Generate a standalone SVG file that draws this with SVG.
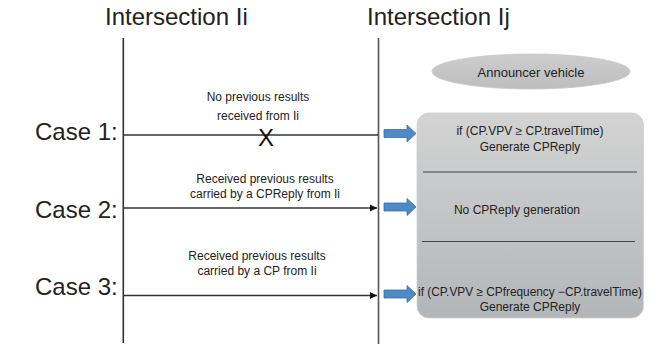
<svg xmlns="http://www.w3.org/2000/svg" width="659" height="348" viewBox="0 0 659 348">
<defs>
<style>
text{font-family:"Liberation Sans",Arial,sans-serif;fill:#222;}
.title{font-size:24px;}
.case{font-size:24px;}
.lbl{font-size:12px;text-anchor:middle;}
.box{font-size:12px;text-anchor:middle;}
.life{stroke:#333;stroke-width:1.6;fill:none;}
.msg{stroke:#333;stroke-width:1.5;fill:none;}
.sep{stroke:#444;stroke-width:1.2;}
.blue{fill:#4f89c8;stroke:#3c6fa6;stroke-width:0.8;}
</style>
<marker id="ah" markerWidth="8" markerHeight="8" refX="7" refY="4" orient="auto" markerUnits="userSpaceOnUse">
<path d="M0,0.5 L7,4 L0,7.5 Z" fill="#111"/>
</marker>
<linearGradient id="gbox" x1="0" y1="0" x2="0" y2="1">
<stop offset="0" stop-color="#d3d3d3"/>
<stop offset="1" stop-color="#b3b6b9"/>
</linearGradient>
<linearGradient id="gell" x1="0" y1="0" x2="0" y2="1">
<stop offset="0" stop-color="#cdcdcd"/>
<stop offset="1" stop-color="#bdbdbd"/>
</linearGradient>
<path id="blk" d="M0,-4 L23,-4 L23,-8.5 L32,0 L23,8.5 L23,4 L0,4 Z"/>
</defs>
<rect width="659" height="348" fill="#fff"/>

<g id="intersection-i">
<text class="title" x="105" y="25">Intersection Ii</text>
<line class="life" x1="123.3" y1="38" x2="123.3" y2="343"/>
</g>
<g id="intersection-j">
<text class="title" x="367" y="25">Intersection Ij</text>
<line class="life" x1="378.5" y1="38" x2="378.5" y2="344" stroke-width="2" style="stroke:#555"/>
</g>

<g id="case-labels">
<text class="case" x="35" y="140">Case 1:</text>
<text class="case" x="35" y="218">Case 2:</text>
<text class="case" x="35" y="295">Case 3:</text>
</g>

<g id="connectors">
<line class="msg" x1="123" y1="135" x2="378" y2="135"/>
<line class="msg" x1="123" y1="208" x2="377" y2="208" marker-end="url(#ah)"/>
<line class="msg" x1="123" y1="295.5" x2="377" y2="295.5" marker-end="url(#ah)"/>
<use href="#blk" class="blue" x="384" y="133.5"/>
<use href="#blk" class="blue" x="384" y="207"/>
<use href="#blk" class="blue" x="384" y="294"/>
</g>

<g id="msg-labels">
<text class="lbl" x="258" y="101">No previous results</text>
<text class="lbl" x="258" y="120">received from Ii</text>
<text x="266" y="146" style="font-size:24px;text-anchor:middle;fill:#111">X</text>
<text class="lbl" x="265" y="183">Received previous results</text>
<text class="lbl" x="265" y="198">carried by a CPReply from Ii</text>
<text class="lbl" x="257" y="260">Received previous results</text>
<text class="lbl" x="257" y="275">carried by a CP from Ii</text>
</g>

<g id="announcer">
<ellipse cx="531" cy="71.5" rx="99" ry="17.5" fill="url(#gell)" stroke="#c9c9c9" stroke-width="0.8"/>
<text x="531" y="77" style="font-size:13px;text-anchor:middle">Announcer vehicle</text>
</g>

<g id="reply-box">
<rect x="417" y="113" width="226.5" height="205" rx="12" ry="12" fill="url(#gbox)" stroke="#cfcfcf" stroke-width="0.8"/>
<text class="box" x="530" y="135">if (CP.VPV ≥ CP.travelTime)</text>
<text class="box" x="530" y="151">Generate CPReply</text>
<line class="sep" x1="423" y1="172" x2="637" y2="172"/>
<text class="box" x="517" y="214">No CPReply generation</text>
<line class="sep" x1="422" y1="241.5" x2="635" y2="241.5"/>
<text class="box" x="530" y="296" textLength="224" lengthAdjust="spacingAndGlyphs">if (CP.VPV ≥ CPfrequency −CP.travelTime)</text>
<text class="box" x="530" y="311">Generate CPReply</text>
</g>
</svg>
